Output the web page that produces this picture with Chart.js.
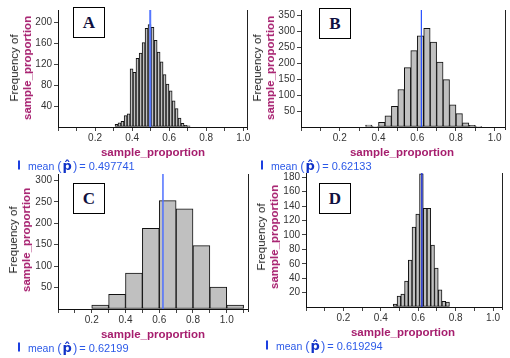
<!DOCTYPE html>
<html><head><meta charset="utf-8">
<script src="https://cdn.jsdelivr.net/npm/chart.js@4.4.1/dist/chart.umd.min.js"></script>
<style>
html,body{margin:0;padding:0;background:#fff;}
#wrap{position:relative;width:510px;height:358px;overflow:hidden;background:#fff;font-family:"Liberation Sans",Arial,sans-serif;}
.cv{position:absolute;}
.ytitle{position:absolute;white-space:nowrap;transform:translate(-50%,-50%) rotate(-90deg);font-size:11.5px;line-height:13px;text-align:center;color:#222;}
.ytitle b{color:#a61e6e;}
.xtitle{position:absolute;white-space:nowrap;transform:translate(-50%,-50%);font-size:11.5px;font-weight:bold;color:#a61e6e;}
.box{position:absolute;width:30px;height:29px;border:1px solid #000;background:#fff;font-family:"Liberation Serif",serif;font-weight:bold;font-size:17px;color:#101040;text-align:center;line-height:30px;}
.legend{position:absolute;white-space:nowrap;transform:translateY(-50%);color:#2b59e8;font-size:10.5px;display:flex;align-items:center;}
.legend .bar{display:inline-block;width:2px;height:9px;background:#1c3fe0;margin-right:8px;}
.legend .par{font-size:13px;color:#3a62e8;}
.legend .par.o{margin-left:3px;}
.legend .p{font-family:"DejaVu Sans",sans-serif;font-weight:bold;font-size:13px;color:#1032c8;margin:0 1px;}
.legend .v{font-size:11px;margin-left:2px;}
</style>
</head><body>
<div id="wrap"></div>
<script>
// ---- data ----
const panelLabels = ['A', 'B', 'C', 'D'];
const meanValues = [0.497741, 0.62133, 0.62199, 0.619294];

const binCentersA = [0.316,0.332,0.348,0.365,0.381,0.397,0.413,0.429,0.446,0.462,0.478,0.494,0.510,0.527,0.543,0.559,0.575,0.591,0.608,0.624,0.640,0.656,0.672,0.689,0.705];
const countsA = [5,8,11,22,25,111,104,131,141,161,188,195,190,165,143,124,100,82,69,50,35,17,7,3,2];

const binCentersB = [0.35,0.3833,0.4167,0.45,0.4833,0.5167,0.55,0.5833,0.6167,0.65,0.6833,0.7167,0.75,0.7833,0.8167,0.85,0.8833,0.9167];
const countsB = [6,2,15,35,65,118,187,240,287,310,267,204,149,70,42,13,5,2];

const binCentersC = [0.25,0.35,0.45,0.55,0.65,0.75,0.85,0.95,1.05];
const countsC = [9,34,84,188,253,234,148,51,9];

const binCentersD = [0.477,0.497,0.517,0.537,0.557,0.577,0.597,0.617,0.637,0.657,0.677,0.697,0.717,0.737,0.757];
const countsD = [4,15,18,36,65,111,129,185,137,137,86,54,24,8,7];

const xTickStep = 0.1;
const xLabelledTicks = [0.2, 0.4, 0.6, 0.8, 1.0];
const yTickSteps = [40, 50, 50, 20];
const yMaxes = [223, 368, 315, 186];
const xMaxes = [1.02, 1.053, 1.126, 1.048];

const axisTitle = 'sample_proportion';
const yTitleLine1 = 'Frequency of';
const legendWord = 'mean';

// ---- layout (page coordinates) ----
const layoutInfo = [
  {cl:0,   ct:0,   w:255, h:180, l:58, r:247, t:10, b:127, yt:[20.5,68],  xt:[153,152], box:[73,7],   lg:[18,165],  mc:'#5577ff', mw:2},
  {cl:255, ct:0,   w:255, h:180, l:46, r:250, t:10, b:127, yt:[263.5,68], xt:[402,152], box:[319,8],  lg:[261,165], mc:'#2850ff', mw:1.2},
  {cl:0,   ct:170, w:255, h:188, l:58, r:248, t:4,  b:139, yt:[20,240],   xt:[153,334], box:[73,183], lg:[18,347],  mc:'#4f70ff', mw:1.5},
  {cl:255, ct:170, w:255, h:188, l:51, r:247, t:3,  b:137, yt:[268,237],  xt:[403,332], box:[319,183],lg:[266,345], mc:'#2a3cd8', mw:1.5}
];

const centersAll = [binCentersA, binCentersB, binCentersC, binCentersD];
const countsAll = [countsA, countsB, countsC, countsD];

const wrap = document.getElementById('wrap');

const framePlugin = {
  id: 'frame',
  afterDraw(c) {
    const a = c.chartArea, ctx = c.ctx;
    const x = Math.round(a.right) + 0.5;
    ctx.save();
    ctx.strokeStyle = '#222';
    ctx.lineWidth = 1;
    ctx.beginPath();
    ctx.moveTo(x, a.top);
    ctx.lineTo(x, a.bottom + 3);
    ctx.stroke();
    ctx.restore();
  }
};

function isLabelled(v) {
  return xLabelledTicks.some(t => Math.abs(t - v) < 1e-6);
}

panelLabels.forEach((name, i) => {
  const L = layoutInfo[i];
  const holder = document.createElement('div');
  holder.className = 'cv';
  holder.style.left = L.cl + 'px';
  holder.style.top = L.ct + 'px';
  holder.style.width = L.w + 'px';
  holder.style.height = L.h + 'px';
  const cv = document.createElement('canvas');
  cv.width = L.w; cv.height = L.h;
  cv.style.width = L.w + 'px'; cv.style.height = L.h + 'px';
  holder.appendChild(cv);
  wrap.appendChild(holder);

  const barData = centersAll[i].map((x, k) => ({x: x, y: countsAll[i][k]}));
  const meanLine = [{x: meanValues[i], y: 0}, {x: meanValues[i], y: yMaxes[i]}];

  new Chart(cv.getContext('2d'), {
    type: 'bar',
    data: {
      datasets: [
        {type: 'line', data: meanLine, borderColor: L.mc, borderWidth: L.mw, pointRadius: 0, order: 0, clip: false},
        {type: 'bar', data: barData, backgroundColor: '#c0c0c0', borderColor: '#111', borderWidth: 1,
         borderSkipped: false, barPercentage: 1, categoryPercentage: 1, order: 1}
      ]
    },
    options: {
      responsive: false,
      animation: false,
      devicePixelRatio: 1,
      layout: {padding: {left: 0, top: L.t, right: L.w - L.r, bottom: 0}},
      plugins: {legend: {display: false}, tooltip: {enabled: false}, title: {display: false}},
      scales: {
        x: {
          type: 'linear', min: 0, max: xMaxes[i], offset: false,
          border: {display: true, color: '#111', width: 1},
          grid: {display: true, drawOnChartArea: false, drawTicks: true, tickLength: 4, color: '#444', offset: false},
          ticks: {
            stepSize: xTickStep, includeBounds: false, autoSkip: false, maxRotation: 0, padding: 1,
            color: '#333', font: {family: 'Liberation Sans', size: 10},
            callback: v => isLabelled(v) ? v.toFixed(1) : ''
          },
          afterFit: s => { s.height = L.h - L.b; s.paddingLeft = 0; s.paddingRight = 0; }
        },
        y: {
          type: 'linear', min: 0, max: yMaxes[i],
          border: {display: true, color: '#111', width: 1},
          grid: {display: true, drawOnChartArea: false, drawTicks: true, tickLength: 4,
                 color: ctx => (ctx.tick && ctx.tick.value === 0) ? 'rgba(0,0,0,0)' : '#444'},
          ticks: {
            stepSize: yTickSteps[i], includeBounds: false, autoSkip: false, padding: 2,
            color: '#333', font: {family: 'Liberation Sans', size: 10},
            callback: v => v === 0 ? '' : String(v)
          },
          afterFit: s => { s.width = L.l; s.paddingTop = 0; s.paddingBottom = 0; }
        }
      }
    },
    plugins: [framePlugin]
  });

  // y title
  const yt = document.createElement('div');
  yt.className = 'ytitle';
  yt.style.left = L.yt[0] + 'px';
  yt.style.top = L.yt[1] + 'px';
  yt.innerHTML = yTitleLine1 + '<br><b>' + axisTitle + '</b>';
  wrap.appendChild(yt);

  // x title
  const xt = document.createElement('div');
  xt.className = 'xtitle';
  xt.style.left = L.xt[0] + 'px';
  xt.style.top = L.xt[1] + 'px';
  xt.textContent = axisTitle;
  wrap.appendChild(xt);

  // panel letter box
  const bx = document.createElement('div');
  bx.className = 'box';
  bx.style.left = L.box[0] + 'px';
  bx.style.top = L.box[1] + 'px';
  bx.textContent = name;
  wrap.appendChild(bx);

  // legend
  const lg = document.createElement('div');
  lg.className = 'legend';
  lg.style.left = L.lg[0] + 'px';
  lg.style.top = L.lg[1] + 'px';
  lg.innerHTML = '<span class="bar"></span><span class="m">' + legendWord + '</span>' +
    '<span class="par o">(</span><span class="p">p\u0302</span><span class="par">)</span>' +
    '<span class="v">= ' + String(meanValues[i]) + '</span>';
  wrap.appendChild(lg);
});
</script>
</body></html>
